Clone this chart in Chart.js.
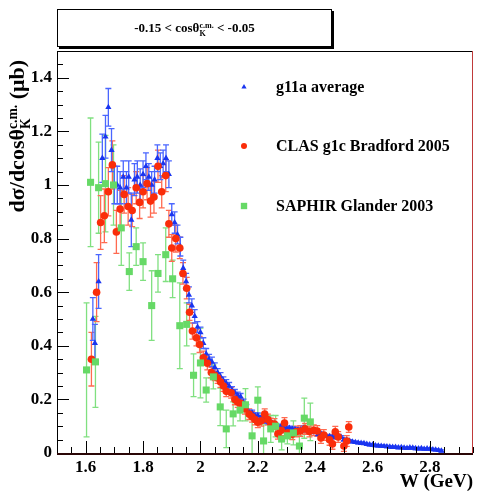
<!DOCTYPE html>
<html>
<head>
<meta charset="utf-8">
<script src="https://cdn.jsdelivr.net/npm/chart.js@4/dist/chart.umd.min.js"></script>
<style>
  body { margin: 0; background: #fff; }
  #wrap { position: relative; width: 478px; height: 493px; overflow: hidden; }
  #chart { position: absolute; left: 0; top: 0; }
  .tbox {
    position: absolute; left: 57px; top: 9px; width: 273px; height: 36px;
    border: 1px solid #000; box-shadow: 2px 2px 0 #000; background: #fff;
    font: bold 13px "Liberation Serif", serif; text-align: center; line-height: 36px;
  }
  .ytitle {
    position: absolute; left: -111px; top: 175px; width: 260px; height: 30px;
    line-height: 30px; text-align: right; transform: rotate(-90deg);
    font: bold 22px "Liberation Serif", serif; white-space: nowrap;
  }
  .ss { display: inline-block; vertical-align: -0.45em; font-size: 0.62em; line-height: 0.95; text-align: left; }
  .ss span { display: block; }
</style>
</head>
<body>
<div id="wrap">
  <canvas id="chart" width="478" height="493"></canvas>
  <div class="tbox">-0.15 &lt; cos&theta;<span class="ss"><span>c.m.</span><span>K</span></span> &lt; -0.05</div>
  <div class="ytitle">d&sigma;/dcos&theta;<span class="ss"><span>c.m.</span><span>K</span></span> (&mu;b)</div>
</div>
<script>
// --- données ---
// g11a average
const g11aW = [1.625, 1.632, 1.645, 1.658, 1.669, 1.679, 1.690, 1.700, 1.710, 1.720,
  1.731, 1.742, 1.750, 1.759, 1.770, 1.780, 1.790, 1.800, 1.810, 1.820,
  1.830, 1.840, 1.850, 1.860, 1.870, 1.880, 1.890, 1.900, 1.910, 1.920,
  1.930, 1.940, 1.950, 1.960, 1.970, 1.980, 1.990, 2.000, 2.010, 2.020,
  2.030, 2.040, 2.050, 2.060, 2.070, 2.080, 2.090, 2.100, 2.110, 2.120,
  2.130, 2.140, 2.150, 2.160, 2.170, 2.180, 2.190, 2.200, 2.210, 2.220,
  2.230, 2.240, 2.250, 2.260, 2.270, 2.280, 2.290, 2.300, 2.310, 2.320,
  2.330, 2.340, 2.350, 2.360, 2.370, 2.380, 2.390, 2.400, 2.410, 2.420,
  2.430, 2.440, 2.450, 2.460, 2.470, 2.480, 2.490, 2.500, 2.510, 2.520,
  2.530, 2.540, 2.550, 2.560, 2.570, 2.580, 2.590, 2.600, 2.610, 2.620,
  2.630, 2.640, 2.650, 2.660, 2.670, 2.680, 2.690, 2.700, 2.710, 2.720,
  2.730, 2.740, 2.750, 2.760, 2.770, 2.780, 2.790, 2.800, 2.810, 2.820,
  2.830, 2.840];
const g11aY = [0.50, 0.41, 0.64, 1.10, 1.18, 1.29, 1.13, 1.00, 1.00, 0.99,
  1.03, 0.99, 1.03, 0.87, 1.02, 1.03, 1.00, 1.04, 1.07, 1.03,
  1.00, 1.02, 1.10, 1.07, 1.08, 1.10, 1.04, 0.89, 0.86, 0.815,
  0.77, 0.69, 0.64, 0.59, 0.55, 0.51, 0.47, 0.45, 0.41, 0.37,
  0.35, 0.34, 0.32, 0.30, 0.285, 0.27, 0.26, 0.25, 0.235, 0.225,
  0.215, 0.21, 0.19, 0.17, 0.15, 0.15, 0.14, 0.14, 0.13, 0.125,
  0.12, 0.115, 0.11, 0.105, 0.10, 0.098, 0.095, 0.093, 0.093, 0.09,
  0.088, 0.086, 0.086, 0.093, 0.085, 0.08, 0.078, 0.08, 0.07, 0.072,
  0.065, 0.063, 0.062, 0.06, 0.058, 0.06, 0.06, 0.05, 0.048, 0.045,
  0.042, 0.04, 0.038, 0.037, 0.036, 0.033, 0.031, 0.030, 0.028, 0.027,
  0.026, 0.025, 0.024, 0.023, 0.022, 0.022, 0.020, 0.021, 0.019, 0.018,
  0.020, 0.019, 0.017, 0.016, 0.017, 0.015, 0.016, 0.015, 0.013, 0.012,
  0.010, 0.008];
const g11aErr = [0.08, 0.07, 0.10, 0.09, 0.08, 0.07, 0.08, 0.07, 0.07, 0.06,
  0.06, 0.06, 0.06, 0.10, 0.06, 0.06, 0.06, 0.05, 0.05, 0.05,
  0.05, 0.05, 0.05, 0.05, 0.05, 0.05, 0.05, 0.04, 0.04, 0.035,
  0.035, 0.03, 0.03, 0.03, 0.025, 0.025, 0.02, 0.02, 0.02, 0.02,
  0.018, 0.018, 0.016, 0.015, 0.015, 0.014, 0.014, 0.013, 0.013, 0.012,
  0.012, 0.012, 0.011, 0.011, 0.010, 0.010, 0.010, 0.010, 0.009, 0.009,
  0.009, 0.008, 0.008, 0.008, 0.008, 0.008, 0.007, 0.007, 0.007, 0.007,
  0.007, 0.007, 0.007, 0.007, 0.006, 0.006, 0.006, 0.006, 0.006, 0.006,
  0.006, 0.005, 0.005, 0.005, 0.005, 0.005, 0.005, 0.005, 0.005, 0.005,
  0.004, 0.004, 0.004, 0.004, 0.004, 0.004, 0.004, 0.004, 0.004, 0.004,
  0.004, 0.004, 0.004, 0.004, 0.004, 0.004, 0.004, 0.004, 0.004, 0.004,
  0.004, 0.004, 0.004, 0.004, 0.004, 0.004, 0.004, 0.004, 0.004, 0.004,
  0.004, 0.004];

// CLAS g1c Bradford 2005
const clasW = [1.620, 1.638, 1.652, 1.665, 1.679, 1.693, 1.707, 1.720, 1.734, 1.748,
  1.762, 1.776, 1.788, 1.800, 1.814, 1.826, 1.838, 1.852, 1.865, 1.879,
  1.890, 1.900, 1.914, 1.928, 1.939, 1.952, 1.962, 1.972, 1.986, 1.997,
  2.010, 2.024, 2.038, 2.050, 2.060, 2.070, 2.080, 2.090, 2.107, 2.120,
  2.130, 2.140, 2.155, 2.170, 2.180, 2.190, 2.200, 2.212, 2.224, 2.235,
  2.245, 2.258, 2.270, 2.282, 2.293, 2.305, 2.320, 2.335, 2.348, 2.365,
  2.380, 2.395, 2.407, 2.420, 2.430, 2.450, 2.460, 2.470, 2.480, 2.500,
  2.510, 2.517];
const clasY = [0.35, 0.60, 0.86, 0.885, 0.975, 1.075, 0.825, 0.91, 0.965, 0.92,
  0.905, 0.99, 0.935, 0.975, 1.005, 0.94, 0.955, 1.07, 0.975, 1.035,
  0.855, 0.765, 0.80, 0.765, 0.67, 0.615, 0.525, 0.455, 0.43, 0.405,
  0.355, 0.335, 0.30, 0.29, 0.28, 0.265, 0.25, 0.23, 0.225, 0.20,
  0.19, 0.185, 0.165, 0.145, 0.135, 0.125, 0.115, 0.12, 0.145, 0.125,
  0.11, 0.108, 0.072, 0.085, 0.112, 0.075, 0.07, 0.08, 0.082, 0.09,
  0.08, 0.085, 0.082, 0.056, 0.067, 0.049, 0.034, 0.079, 0.060, 0.026,
  0.045, 0.097];
const clasErr = [0.10, 0.11, 0.10, 0.10, 0.09, 0.09, 0.08, 0.07, 0.07, 0.07,
  0.06, 0.06, 0.06, 0.06, 0.06, 0.06, 0.06, 0.06, 0.06, 0.06,
  0.05, 0.05, 0.05, 0.04, 0.04, 0.04, 0.03, 0.03, 0.03, 0.03,
  0.025, 0.025, 0.02, 0.02, 0.02, 0.02, 0.02, 0.02, 0.02, 0.02,
  0.02, 0.02, 0.02, 0.02, 0.02, 0.02, 0.02, 0.02, 0.02, 0.02,
  0.02, 0.02, 0.02, 0.02, 0.02, 0.02, 0.02, 0.02, 0.02, 0.02,
  0.02, 0.02, 0.02, 0.02, 0.02, 0.02, 0.02, 0.02, 0.02, 0.02,
  0.02, 0.02];

// SAPHIR Glander 2003
const saphirW = [1.603, 1.617, 1.634, 1.645, 1.669, 1.697, 1.724, 1.752, 1.776, 1.800,
  1.830, 1.852, 1.879, 1.903, 1.928, 1.952, 1.976, 2.000, 2.020, 2.045,
  2.069, 2.090, 2.114, 2.138, 2.157, 2.180, 2.200, 2.220, 2.245, 2.262,
  2.283, 2.303, 2.324, 2.345, 2.362, 2.383];
const saphirY = [0.31, 1.01, 0.34, 0.99, 1.005, 1.00, 0.84, 0.677, 0.77, 0.714,
  0.55, 0.67, 0.74, 0.65, 0.475, 0.48, 0.29, 0.336, 0.235, 0.284,
  0.172, 0.09, 0.146, 0.16, 0.18, 0.064, 0.197, 0.045, 0.09, 0.10,
  0.052, 0.064, 0.075, 0.026, 0.13, 0.116];
const saphirErr = [0.25, 0.24, 0.17, 0.17, 0.18, 0.15, 0.14, 0.07, 0.07, 0.07,
  0.13, 0.07, 0.10, 0.07, 0.16, 0.08, 0.08, 0.13, 0.045, 0.045,
  0.07, 0.07, 0.045, 0.04, 0.06, 0.08, 0.05, 0.06, 0.05, 0.04,
  0.04, 0.03, 0.045, 0.04, 0.075, 0.07];

const xTickStep = 0.2;
const yTickStep = 0.2;

const seriesList = [
  { label: "g11a average", w: g11aW, y: g11aY, err: g11aErr, color: "#1a35f0", barColor: "#4a66ff", style: "triangle", radius: 3.6, order: 3 },
  { label: "CLAS g1c Bradford 2005", w: clasW, y: clasY, err: clasErr, color: "#fa2d0a", barColor: "#ff6a50", style: "circle", radius: 3.8, order: 2 },
  { label: "SAPHIR Glander 2003", w: saphirW, y: saphirY, err: saphirErr, color: "#66d966", barColor: "#80e080", style: "rect", radius: 5, order: 1 }
];

// --- barres d'erreur (style ROOT, avec petits chapeaux) ---
const errorBarPlugin = {
  id: 'errorBars',
  beforeDatasetsDraw(chart) {
    const ctx = chart.ctx;
    const xs = chart.scales.x, ys = chart.scales.y;
    const area = chart.chartArea;
    ctx.save();
    ctx.beginPath();
    ctx.rect(area.left, area.top, area.right - area.left, area.bottom - area.top);
    ctx.clip();
    ctx.lineWidth = 1.3;
    // on dessine de la dernière série à la première pour garder l'empilement
    for (let i = chart.data.datasets.length - 1; i >= 0; i--) {
      const ds = chart.data.datasets[i];
      ctx.strokeStyle = ds.barColor;
      ds.data.forEach((p, k) => {
        const e = ds.errors[k];
        const px = xs.getPixelForValue(p.x);
        const top = ys.getPixelForValue(p.y + e);
        const bot = ys.getPixelForValue(p.y - e);
        ctx.beginPath();
        ctx.moveTo(px, top); ctx.lineTo(px, bot);
        ctx.moveTo(px - 3, top); ctx.lineTo(px + 3, top);
        ctx.moveTo(px - 3, bot); ctx.lineTo(px + 3, bot);
        ctx.stroke();
      });
    }
    ctx.restore();
  }
};

// --- cadre et graduations vers l'intérieur (comme ROOT) ---
const frameTicksPlugin = {
  id: 'frameTicks',
  afterDatasetsDraw(chart) {
    const ctx = chart.ctx;
    const xs = chart.scales.x, ys = chart.scales.y;
    const a = chart.chartArea;
    ctx.save();
    ctx.strokeStyle = "#000";
    ctx.lineWidth = 1;
    // graduations axe X : majeures tous les 0.2, mineures tous les 0.05
    for (let v = 1.55; v < xs.max; v += 0.05) {
      const vv = Math.round(v * 100) / 100;
      const major = Math.abs(Math.round(vv / 0.2) * 0.2 - vv) < 1e-6;
      const px = Math.round(xs.getPixelForValue(vv)) + 0.5;
      ctx.beginPath();
      ctx.moveTo(px, a.bottom);
      ctx.lineTo(px, a.bottom - (major ? 12 : 6));
      ctx.stroke();
    }
    // graduations axe Y
    for (let v = 0.05; v < ys.max + 1e-6; v += 0.05) {
      const vv = Math.round(v * 100) / 100;
      const major = Math.abs(Math.round(vv / 0.2) * 0.2 - vv) < 1e-6;
      const py = Math.round(ys.getPixelForValue(vv)) + 0.5;
      ctx.beginPath();
      ctx.moveTo(a.left, py);
      ctx.lineTo(a.left + (major ? 12 : 6), py);
      ctx.stroke();
    }
    // cadre
    ctx.beginPath();
    ctx.moveTo(a.left, a.top + 0.5); ctx.lineTo(a.right, a.top + 0.5);
    ctx.stroke();
    ctx.strokeStyle = "#c03a3a";
    ctx.beginPath();
    ctx.moveTo(a.right - 0.5, a.top); ctx.lineTo(a.right - 0.5, a.bottom);
    ctx.stroke();
    ctx.strokeStyle = "#000";
    ctx.beginPath();
    ctx.moveTo(a.left + 0.5, a.top); ctx.lineTo(a.left + 0.5, a.bottom);
    ctx.stroke();
    ctx.strokeStyle = "#2a0606";
    ctx.lineWidth = 2;
    ctx.beginPath();
    ctx.moveTo(a.left, a.bottom + 1); ctx.lineTo(a.right, a.bottom + 1);
    ctx.stroke();
    ctx.restore();
  }
};

// --- légende sans cadre dans le graphique ---
const insideLegendPlugin = {
  id: 'insideLegend',
  afterDraw(chart) {
    const ctx = chart.ctx;
    const rows = [87, 146, 206];
    ctx.save();
    ctx.font = 'bold 16px "Liberation Serif", serif';
    ctx.textBaseline = 'middle';
    chart.data.datasets.forEach((ds, i) => {
      ctx.fillStyle = ds.backgroundColor;
      ctx.strokeStyle = ds.backgroundColor;
      Chart.helpers.drawPoint(ctx, { pointStyle: ds.pointStyle, radius: ds.legendRadius, rotation: 0, borderWidth: 0 }, 244, rows[i]);
      ctx.fillStyle = "#000";
      ctx.fillText(ds.label, 276, rows[i] + 1);
    });
    ctx.restore();
  }
};

const datasets = seriesList.map(s => ({
  label: s.label,
  data: s.w.map((w, k) => ({ x: w, y: s.y[k] })),
  errors: s.err,
  barColor: s.barColor,
  backgroundColor: s.color,
  borderColor: s.color,
  borderWidth: 0,
  pointStyle: s.style,
  pointRadius: s.radius,
  legendRadius: s.style === "rect" ? 4.5 : 3,
  order: s.order,
  showLine: false
}));

const fmt = v => String(Math.round(v * 10) / 10);
const tickFont = { family: '"Liberation Serif", serif', size: 17, weight: 'bold' };

new Chart(document.getElementById("chart"), {
  type: "scatter",
  data: { datasets },
  plugins: [errorBarPlugin, frameTicksPlugin, insideLegendPlugin],
  options: {
    responsive: false,
    devicePixelRatio: 1,
    animation: false,
    layout: { padding: { top: 51, right: 2, left: 0, bottom: 0 } },
    plugins: { legend: { display: false }, tooltip: { enabled: false } },
    scales: {
      x: {
        type: "linear", min: 1.5, max: 2.95,
        grid: { display: false, drawTicks: false },
        border: { display: false },
        ticks: { stepSize: xTickStep, includeBounds: false, autoSkip: false, maxRotation: 0,
                 color: "#000", font: tickFont, padding: 4, callback: fmt },
        title: { display: true, text: "W (GeV)", align: "end", color: "#000",
                 font: { family: '"Liberation Serif", serif', size: 19, weight: 'bold' },
                 padding: { top: 0, bottom: 0 } },
        afterFit(scale) { scale.height = 40; }
      },
      y: {
        type: "linear", min: 0, max: 1.5,
        grid: { display: false, drawTicks: false },
        border: { display: false },
        ticks: { stepSize: yTickStep, includeBounds: false, color: "#000", font: tickFont, padding: 5, callback: fmt },
        afterFit(scale) { scale.width = 57; }
      }
    }
  }
});
</script>
</body>
</html>
